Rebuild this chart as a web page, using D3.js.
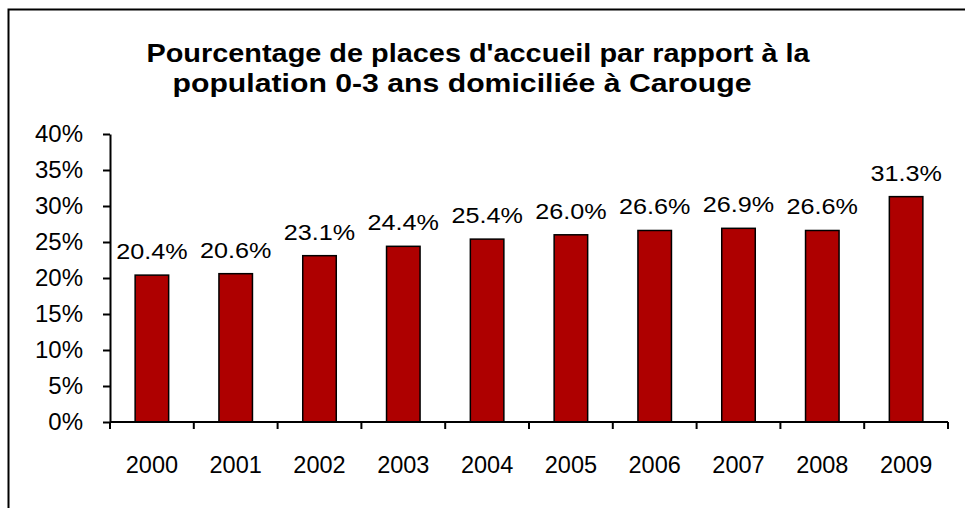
<!DOCTYPE html>
<html>
<head>
<meta charset="utf-8">
<script src="https://cdn.jsdelivr.net/npm/d3@7"></script>
<style>
  body { margin: 0; background: #fff; }
  svg { display: block; font-family: "Liberation Sans", Arial, sans-serif; }
</style>
</head>
<body>
<div id="chart"></div>
<script>

var years = ['2000', '2001', '2002', '2003', '2004', '2005', '2006', '2007', '2008', '2009'];
var values = [20.4, 20.6, 23.1, 24.4, 25.4, 26.0, 26.6, 26.9, 26.6, 31.3];
var yTicks = [0, 5, 10, 15, 20, 25, 30, 35, 40];
var titleLines = ["Pourcentage de places d'accueil par rapport à la", "population 0-3 ans domiciliée à Carouge"];

var widthCont = 965,
    heightCont = 508,
    margin = {top: 134, right: 17, bottom: 86, left: 110};

var width = widthCont - margin.left - margin.right,
    height = heightCont - margin.top - margin.bottom;

var svg = d3.select('#chart').append('svg')
  .attr('width', widthCont)
  .attr('height', heightCont);

// outer frame (runs off the right and bottom edges)
svg.append('rect')
  .attr('x', 8.5).attr('y', 9.5)
  .attr('width', 1000).attr('height', 1000)
  .attr('fill', 'none')
  .attr('stroke', '#000')
  .attr('stroke-width', 2);

// title (the original text is a bit stretched horizontally)
var titleX = [478, 462],
    titleScale = [1.09, 1.14];

svg.selectAll('.title')
  .data(titleLines)
  .enter().append('text')
  .attr('class', 'title')
  .attr('transform', function(d, i){
    return 'translate(' + titleX[i] + ',' + (62 + i * 30) + ') scale(' + titleScale[i] + ',1)';
  })
  .attr('text-anchor', 'middle')
  .style('font-weight', 'bold')
  .style('font-size', '26.5px')
  .text(function(d){ return d; });

var g = svg.append('g')
  .attr('transform', 'translate(' + margin.left + ',' + margin.top + ')');

var x = d3.scaleBand()
  .domain(years)
  .range([0, width])
  .paddingInner(0.6)
  .paddingOuter(0.3);

var xTick = d3.scaleBand()
  .domain(years)
  .range([0, width]);

var y = d3.scaleLinear()
  .domain([0, 40])
  .range([height, 0]);

// y axis
var yAxis = g.append('g')
  .call(d3.axisLeft(y).tickValues(yTicks).tickSize(7).tickSizeOuter(0).tickPadding(20)
    .tickFormat(function(d){ return d + '%'; }));

yAxis.select('.domain').attr('stroke-width', 2);
yAxis.selectAll('.tick line').attr('stroke-width', 2);
yAxis.selectAll('.tick text')
  .style('font-size', '24px')
  .attr('fill', '#000');

// bars
g.selectAll('.bar')
  .data(values)
  .enter().append('rect')
  .attr('class', 'bar')
  .attr('x', function(d, i){ return x(years[i]); })
  .attr('y', function(d){ return y(d); })
  .attr('width', x.bandwidth())
  .attr('height', function(d){ return height - y(d); })
  .attr('fill', '#AE0000')
  .attr('stroke', '#000')
  .attr('stroke-width', 1.5);

// value labels
g.selectAll('.label')
  .data(values)
  .enter().append('text')
  .attr('class', 'label')
  .attr('transform', function(d, i){
    return 'translate(' + (x(years[i]) + x.bandwidth() / 2) + ',' + (y(d) - 16) + ') scale(1.12,1)';
  })
  .attr('text-anchor', 'middle')
  .style('font-size', '22.5px')
  .text(function(d){ return d.toFixed(1) + '%'; });

// x axis: ticks between categories
var xAxis = g.append('g')
  .attr('transform', 'translate(0,' + height + ')');

xAxis.append('line')
  .attr('x1', 0).attr('x2', width)
  .attr('stroke', '#000')
  .attr('stroke-width', 2);

var tickPos = years.map(function(d){ return xTick(d); }).concat([width]);

xAxis.selectAll('.xtick')
  .data(tickPos)
  .enter().append('line')
  .attr('class', 'xtick')
  .attr('x1', function(d){ return d; })
  .attr('x2', function(d){ return d; })
  .attr('y1', 0).attr('y2', 7)
  .attr('stroke', '#000')
  .attr('stroke-width', 2);

xAxis.selectAll('.xlabel')
  .data(years)
  .enter().append('text')
  .attr('class', 'xlabel')
  .attr('x', function(d){ return xTick(d) + xTick.bandwidth() / 2; })
  .attr('y', 51)
  .attr('text-anchor', 'middle')
  .style('font-size', '23.5px')
  .text(function(d){ return d; });

</script>
</body>
</html>
